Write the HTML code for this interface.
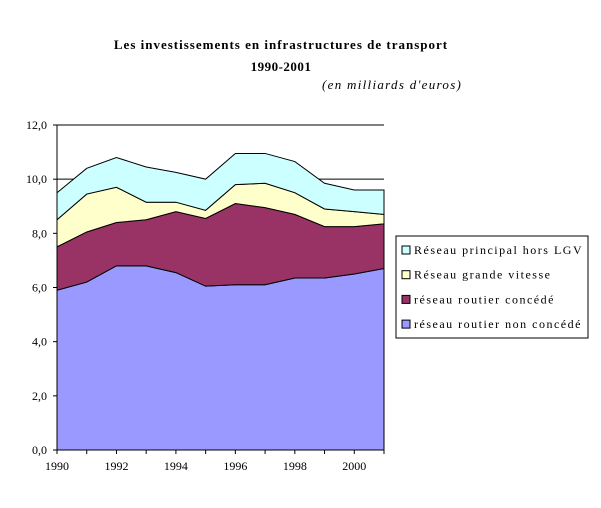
<!DOCTYPE html>
<html><head><meta charset="utf-8"><style>
body{margin:0;background:#fff;}
svg text{font-family:"Liberation Serif",serif;}
</style></head><body>
<svg id="chart" width="601" height="503" viewBox="0 0 601 503">
<text x="281" y="49" text-anchor="middle" font-size="13" font-weight="bold" letter-spacing="1">Les investissements en infrastructures de transport</text>
<text x="281" y="71" text-anchor="middle" font-size="13" font-weight="bold" letter-spacing="0.5">1990-2001</text>
<text x="322" y="89" font-size="13" font-style="italic" letter-spacing="1.3">(en milliards d'euros)</text>
<g id="grid"></g><g id="areas"></g><g id="axes"></g>
<g>
<rect x="396" y="236" width="192" height="102" fill="#fff" stroke="#000"/>
<g id="legend"></g>
</g>
</svg>
<script>
const years=[1990,1991,1992,1993,1994,1995,1996,1997,1998,1999,2000,2001];
const nonConcede=[5.9,6.2,6.8,6.8,6.55,6.05,6.1,6.1,6.35,6.35,6.5,6.7];
const concede=[1.6,1.85,1.6,1.7,2.25,2.5,3.0,2.85,2.35,1.9,1.75,1.65];
const grandeVitesse=[1.0,1.4,1.3,0.65,0.35,0.3,0.7,0.9,0.8,0.65,0.55,0.35];
const principal=[1.0,0.95,1.1,1.3,1.1,1.15,1.15,1.1,1.15,0.95,0.8,0.9];
const yTicks=["0,0","2,0","4,0","6,0","8,0","10,0","12,0"];
const xTicks=[1990,1992,1994,1996,1998,2000];
const seriesNames=["réseau routier non concédé","réseau routier concédé","Réseau grande vitesse","Réseau principal hors LGV"];
const colors=["#9999FF","#993366","#FFFFCC","#CCFFFF"];
const NS="http://www.w3.org/2000/svg";
const X0=57,X1=384,Y0=450,Y1=125;
const x=yr=>X0+(yr-1990)/(2001-1990)*(X1-X0);
const y=v=>Y0-v/12*(Y0-Y1);
function mk(t,a,p){const e=document.createElementNS(NS,t);for(const k in a)e.setAttribute(k,a[k]);p.appendChild(e);return e;}
const grid=document.getElementById('grid');
yTicks.forEach((t,i)=>{const v=i*2;
 const l=mk('line',{x1:X0,x2:X1,y1:y(v),y2:y(v),stroke:'#000','stroke-width':1},grid);
 
 
});
const series=[nonConcede,concede,grandeVitesse,principal];
let lower=years.map(()=>0);
const areas=document.getElementById('areas');
series.forEach((s,si)=>{
 const upper=lower.map((b,i)=>b+s[i]);
 let pts=years.map((yr,i)=>x(yr)+','+y(upper[i]));
 pts=pts.concat(years.map((yr,i)=>x(yr)+','+y(lower[i])).reverse());
 const p=mk('polygon',{points:pts.join(' '),fill:colors[si],stroke:'#000','stroke-width':1},areas);
 
 
 lower=upper;
});
const axes=document.getElementById('axes');
mk('line',{x1:X0,x2:X0,y1:Y1,y2:Y0,stroke:'#000'},axes);
mk('line',{x1:X0,x2:X1,y1:Y0,y2:Y0,stroke:'#000'},axes);
yTicks.forEach((t,i)=>{const v=i*2;
 mk('line',{x1:X0-4,x2:X0,y1:y(v),y2:y(v),stroke:'#000'},axes);
 const tx=mk('text',{x:X0-10,y:y(v)+4,'text-anchor':'end','font-size':12},axes);tx.textContent=t;
 
 
});
years.forEach(yr=>{mk('line',{x1:x(yr),x2:x(yr),y1:Y0,y2:Y0+4,stroke:'#000'},axes);});
xTicks.forEach(yr=>{
 const tx=mk('text',{x:x(yr),y:Y0+20,'text-anchor':'middle','font-size':12},axes);tx.textContent=yr;
 
 
});
const lg=document.getElementById('legend');
[3,2,1,0].forEach((si,k)=>{
 const yy=250+k*24.7;
 mk('rect',{x:402,y:yy-4,width:8,height:8,fill:colors[si],stroke:'#000'},lg);
 const tx=mk('text',{x:414,y:yy+4,'font-size':12,'letter-spacing':'1.5'},lg);tx.textContent=seriesNames[si];
 
 
});
</script>
</body></html>
